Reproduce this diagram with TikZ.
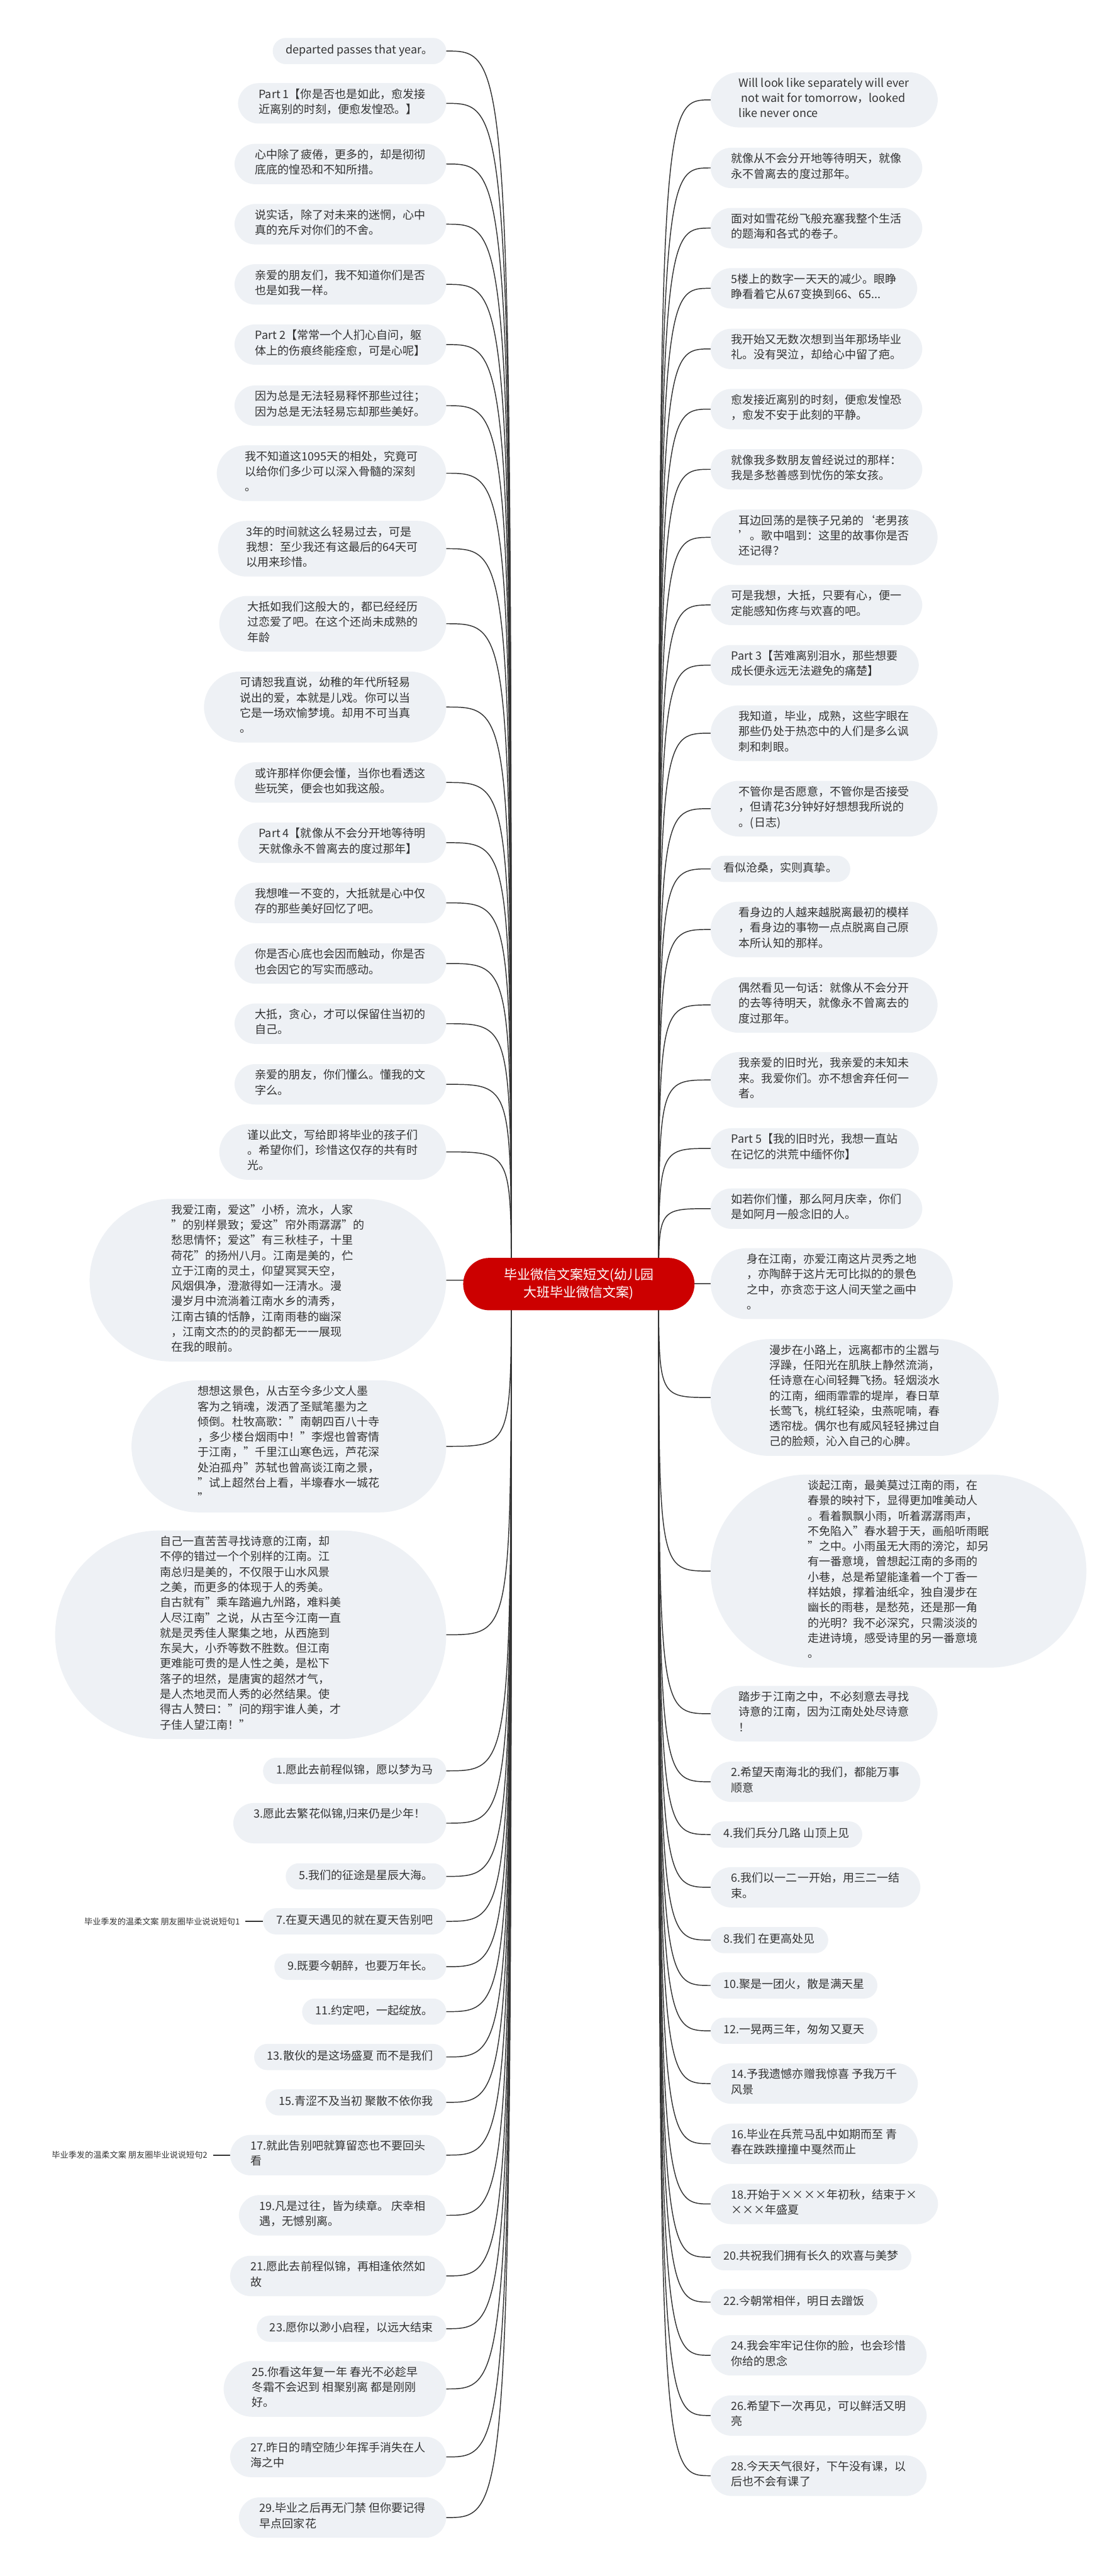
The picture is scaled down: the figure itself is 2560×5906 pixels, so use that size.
\documentclass[tikz,border=0pt]{standalone}
\usepackage{fontspec}
\setmainfont{Noto Sans CJK SC}
\usetikzlibrary{positioning,backgrounds}
\definecolor{bubble}{RGB}{238,241,245}
\definecolor{ink}{RGB}{51,51,51}
\definecolor{rootred}{RGB}{204,0,0}

\begin{document}
\begin{tikzpicture}[x=0.01cm,y=-0.01cm,
    % #1 = number of text lines; ends are half circles
    leaf/.style={rectangle, fill=bubble, text=ink, align=left,
      inner xsep={0.125cm+0.175cm*#1}, inner ysep=3.56pt, outer sep=0pt,
      rounded corners={0.125cm+0.175cm*#1},
      font=\fontsize{7.4pt}{9.96pt}\selectfont,
      execute at begin node=\strut, execute at end node=\strut},
    lleaf/.style={leaf=#1, anchor=east},
    rleaf/.style={leaf=#1, anchor=west},
    rootbox/.style={rectangle, fill=rootred, text=white, align=center,
      minimum width=5.3cm, minimum height=1.2cm, rounded corners=0.6cm,
      inner sep=0pt, outer sep=0pt,
      font=\fontsize{8.6pt}{11.4pt}\selectfont},
    tag/.style={text=ink, inner xsep=0.13cm, inner ysep=0pt, outer sep=0pt,
      font=\fontsize{5.4pt}{7pt}\selectfont},
    link/.style={draw=ink, line width=0.6pt}]

  \useasboundingbox (0,0) rectangle (2560,5906);

  % centre
  \node[rootbox] (root) at (1327,2944) {毕业微信文案短文(幼儿园\\大班毕业微信文案)};
  \coordinate (lsrc) at (1172,2944);
  \coordinate (rsrc) at (1510,2944);

  % left side
  \node[lleaf=1] (L1) at (1023,117) {departed passes that year。};
  \node[lleaf=2] (L2) at (1023,237) {Part 1【你是否也是如此，愈发接\\近离别的时刻，便愈发惶恐。】};
  \node[lleaf=2] (L3) at (1023,376) {心中除了疲倦，更多的，却是彻彻\\底底的惶恐和不知所措。};
  \node[lleaf=2] (L4) at (1023,514) {说实话，除了对未来的迷惘，心中\\真的充斥对你们的不舍。};
  \node[lleaf=2] (L5) at (1023,652) {亲爱的朋友们，我不知道你们是否\\也是如我一样。};
  \node[lleaf=2] (L6) at (1023,790) {Part 2【常常一个人扪心自问，躯\\体上的伤痕终能痊愈，可是心呢】};
  \node[lleaf=2] (L7) at (1023,930) {因为总是无法轻易释怀那些过往；\\因为总是无法轻易忘却那些美好。};
  \node[lleaf=3] (L8) at (1023,1085) {我不知道这1095天的相处，究竟可\\以给你们多少可以深入骨髓的深刻\\。};
  \node[lleaf=3] (L9) at (1023,1258) {3年的时间就这么轻易过去，可是\\我想：至少我还有这最后的64天可\\以用来珍惜。};
  \node[lleaf=3] (L10) at (1023,1430) {大抵如我们这般大的，都已经经历\\过恋爱了吧。在这个还尚未成熟的\\年龄};
  \node[lleaf=4] (L11) at (1023,1621) {可请恕我直说，幼稚的年代所轻易\\说出的爱，本就是儿戏。你可以当\\它是一场欢愉梦境。却用不可当真\\。};
  \node[lleaf=2] (L12) at (1023,1794) {或许那样你便会懂，当你也看透这\\些玩笑，便会也如我这般。};
  \node[lleaf=2] (L13) at (1023,1932) {Part 4【就像从不会分开地等待明\\天就像永不曾离去的度过那年】};
  \node[lleaf=2] (L14) at (1023,2070) {我想唯一不变的，大抵就是心中仅\\存的那些美好回忆了吧。};
  \node[lleaf=2] (L15) at (1023,2209) {你是否心底也会因而触动，你是否\\也会因它的写实而感动。};
  \node[lleaf=2] (L16) at (1023,2347) {大抵，贪心，才可以保留住当初的\\自己。};
  \node[lleaf=2] (L17) at (1023,2486) {亲爱的朋友，你们懂么。懂我的文\\字么。};
  \node[lleaf=3] (L18) at (1023,2641) {谨以此文，写给即将毕业的孩子们\\。希望你们，珍惜这仅存的共有时\\光。};
  \node[lleaf=10] (L19) at (1023,2935) {我爱江南，爱这"小桥，流水，人家\\"的别样景致；爱这"帘外雨潺潺"的\\愁思情怀；爱这"有三秋桂子，十里\\荷花"的扬州八月。江南是美的，伫\\立于江南的灵土，仰望冥冥天空，\\风烟俱净，澄澈得如一汪清水。漫\\漫岁月中流淌着江南水乡的清秀，\\江南古镇的恬静，江南雨巷的幽深\\，江南文杰的的灵韵都无一一展现\\在我的眼前。};
  \node[lleaf=8] (L20) at (1023,3316) {想想这景色，从古至今多少文人墨\\客为之销魂，泼洒了圣赋笔墨为之\\倾倒。杜牧高歌："南朝四百八十寺\\，多少楼台烟雨中！"李煜也曾寄情\\于江南，"千里江山寒色远，芦花深\\处泊孤舟"苏轼也曾高谈江南之景，\\"试上超然台上看，半壕春水一城花\\"};
  \node[lleaf=13] (L21) at (1023,3748) {自己一直苦苦寻找诗意的江南，却\\不停的错过一个个别样的江南。江\\南总归是美的，不仅限于山水风景\\之美，而更多的体现于人的秀美。\\自古就有"乘车踏遍九州路，难料美\\人尽江南"之说，从古至今江南一直\\就是灵秀佳人聚集之地，从西施到\\东吴大，小乔等数不胜数。但江南\\更难能可贵的是人性之美，是松下\\落子的坦然，是唐寅的超然才气，\\是人杰地灵而人秀的必然结果。使\\得古人赞曰："问的翔宇谁人美，才\\子佳人望江南！"};
  \node[lleaf=1] (L22) at (1023,4060) {1.愿此去前程似锦，愿以梦为马};
  \node[lleaf=2] (L23) at (1023,4180) {3.愿此去繁花似锦,归来仍是少年！\\\mbox{}};
  \node[lleaf=1] (L24) at (1023,4302) {5.我们的征途是星辰大海。};
  \node[lleaf=1] (L25) at (1023,4405) {7.在夏天遇见的就在夏天告别吧};
  \node[lleaf=1] (L26) at (1023,4509) {9.既要今朝醉，也要万年长。};
  \node[lleaf=1] (L27) at (1023,4612) {11.约定吧，一起绽放。};
  \node[lleaf=1] (L28) at (1023,4716) {13.散伙的是这场盛夏 而不是我们};
  \node[lleaf=1] (L29) at (1023,4820) {15.青涩不及当初 聚散不依你我};
  \node[lleaf=2] (L30) at (1023,4941) {17.就此告别吧就算留恋也不要回头\\看};
  \node[lleaf=2] (L31) at (1023,5079) {19.凡是过往，皆为续章。 庆幸相\\遇，无憾别离。};
  \node[lleaf=2] (L32) at (1023,5218) {21.愿此去前程似锦，再相逢依然如\\故};
  \node[lleaf=1] (L33) at (1023,5339) {23.愿你以渺小启程，以远大结束};
  \node[lleaf=3] (L34) at (1023,5477) {25.你看这年复一年 春光不必趁早\\冬霜不会迟到 相聚别离 都是刚刚\\好。};
  \node[lleaf=2] (L35) at (1023,5633) {27.昨日的晴空随少年挥手消失在人\\海之中};
  \node[lleaf=2] (L36) at (1023,5772) {29.毕业之后再无门禁 但你要记得\\早点回家花};

  % small tags hanging off the left
  \node[tag, left=0.4cm of L25.west, anchor=east] (tag1) {毕业季发的温柔文案 朋友圈毕业说说短句1};
  \node[tag, left=0.39cm of L30.west, anchor=east] (tag2) {毕业季发的温柔文案 朋友圈毕业说说短句2};

  % right side
  \node[rleaf=3] (R1) at (1629,229) {Will look like separately will ever\\~not wait for tomorrow，looked\\like never once};
  \node[rleaf=2] (R2) at (1629,385) {就像从不会分开地等待明天，就像\\永不曾离去的度过那年。};
  \node[rleaf=2] (R3) at (1629,523) {面对如雪花纷飞般充塞我整个生活\\的题海和各式的卷子。};
  \node[rleaf=2] (R4) at (1629,661) {5楼上的数字一天天的减少。眼睁\\睁看着它从67变换到66、65...};
  \node[rleaf=2] (R5) at (1629,800) {我开始又无数次想到当年那场毕业\\礼。没有哭泣，却给心中留了疤。};
  \node[rleaf=2] (R6) at (1629,938) {愈发接近离别的时刻，便愈发惶恐\\，愈发不安于此刻的平静。};
  \node[rleaf=2] (R7) at (1629,1076) {就像我多数朋友曾经说过的那样：\\我是多愁善感到忧伤的笨女孩。};
  \node[rleaf=3] (R8) at (1629,1232) {耳边回荡的是筷子兄弟的‘老男孩\\’。歌中唱到：这里的故事你是否\\还记得？};
  \node[rleaf=2] (R9) at (1629,1387) {可是我想，大抵，只要有心，便一\\定能感知伤疼与欢喜的吧。};
  \node[rleaf=2] (R10) at (1629,1525) {Part 3【苦难离别泪水，那些想要\\成长便永远无法避免的痛楚】};
  \node[rleaf=3] (R11) at (1629,1681) {我知道，毕业，成熟，这些字眼在\\那些仍处于热恋中的人们是多么讽\\刺和刺眼。};
  \node[rleaf=3] (R12) at (1629,1854) {不管你是否愿意，不管你是否接受\\，但请花3分钟好好想想我所说的\\。(日志)};
  \node[rleaf=1] (R13) at (1629,1992) {看似沧桑，实则真挚。};
  \node[rleaf=3] (R14) at (1629,2131) {看身边的人越来越脱离最初的模样\\，看身边的事物一点点脱离自己原\\本所认知的那样。};
  \node[rleaf=3] (R15) at (1629,2304) {偶然看见一句话：就像从不会分开\\的去等待明天，就像永不曾离去的\\度过那年。};
  \node[rleaf=3] (R16) at (1629,2476) {我亲爱的旧时光，我亲爱的未知未\\来。我爱你们。亦不想舍弃任何一\\者。};
  \node[rleaf=2] (R17) at (1629,2633) {Part 5【我的旧时光，我想一直站\\在记忆的洪荒中缅怀你】};
  \node[rleaf=2] (R18) at (1629,2771) {如若你们懂，那么阿月庆幸，你们\\是如阿月一般念旧的人。};
  \node[rleaf=4] (R19) at (1629,2943) {身在江南，亦爱江南这片灵秀之地\\，亦陶醉于这片无可比拟的的景色\\之中，亦贪恋于这人间天堂之画中\\。};
  \node[rleaf=7] (R20) at (1629,3204) {漫步在小路上，远离都市的尘嚣与\\浮躁，任阳光在肌肤上静然流淌，\\任诗意在心间轻舞飞扬。轻烟淡水\\的江南，细雨霏霏的堤岸，春日草\\长莺飞，桃红轻染，虫燕呢喃，春\\透帘栊。偶尔也有威风轻轻拂过自\\己的脸颊，沁入自己的心脾。};
  \node[rleaf=12] (R21) at (1629,3602) {谈起江南，最美莫过江南的雨，在\\春景的映衬下，显得更加唯美动人\\。看着飘飘小雨，听着潺潺雨声，\\不免陷入"春水碧于天，画船听雨眠\\"之中。小雨虽无大雨的滂沱，却另\\有一番意境，曾想起江南的多雨的\\小巷，总是希望能逢着一个丁香一\\样姑娘，撑着油纸伞，独自漫步在\\幽长的雨巷，是愁苑，还是那一角\\的光明？我不必深究，只需淡淡的\\走进诗境，感受诗里的另一番意境\\。};
  \node[rleaf=3] (R22) at (1629,3929) {踏步于江南之中，不必刻意去寻找\\诗意的江南，因为江南处处尽诗意\\！};
  \node[rleaf=2] (R23) at (1629,4085) {2.希望天南海北的我们，都能万事\\顺意};
  \node[rleaf=1] (R24) at (1629,4206) {4.我们兵分几路 山顶上见};
  \node[rleaf=2] (R25) at (1629,4327) {6.我们以一二一开始，用三二一结\\束。};
  \node[rleaf=1] (R26) at (1629,4448) {8.我们 在更高处见};
  \node[rleaf=1] (R27) at (1629,4552) {10.聚是一团火，散是满天星};
  \node[rleaf=1] (R28) at (1629,4656) {12.一晃两三年，匆匆又夏天};
  \node[rleaf=2] (R29) at (1629,4777) {14.予我遗憾亦赠我惊喜 予我万千\\风景};
  \node[rleaf=2] (R30) at (1629,4915) {16.毕业在兵荒马乱中如期而至 青\\春在跌跌撞撞中戛然而止};
  \node[rleaf=2] (R31) at (1629,5053) {18.开始于××××年初秋，结束于×\\×××年盛夏};
  \node[rleaf=1] (R32) at (1629,5175) {20.共祝我们拥有长久的欢喜与美梦};
  \node[rleaf=1] (R33) at (1629,5278) {22.今朝常相伴，明日去蹭饭};
  \node[rleaf=2] (R34) at (1629,5400) {24.我会牢牢记住你的脸，也会珍惜\\你给的思念};
  \node[rleaf=2] (R35) at (1629,5538) {26.希望下一次再见，可以鲜活又明\\亮};
  \node[rleaf=2] (R36) at (1629,5676) {28.今天天气很好，下午没有课，以\\后也不会有课了};

  % connectors, behind the bubbles
  \begin{scope}[on background layer]
    \fill[white] (0,0) rectangle (2560,5906);
    \foreach \n in {1,...,36}{
      \draw[link] (lsrc) .. controls (lsrc |- L\n.east) and (lsrc |- L\n.east) .. (L\n.east);
      \draw[link] (rsrc) .. controls (rsrc |- R\n.west) and (rsrc |- R\n.west) .. (R\n.west);
    }
    \draw[link] (tag1.east) -- (L25.west);
    \draw[link] (tag2.east) -- (L30.west);
  \end{scope}
\end{tikzpicture}
\end{document}
